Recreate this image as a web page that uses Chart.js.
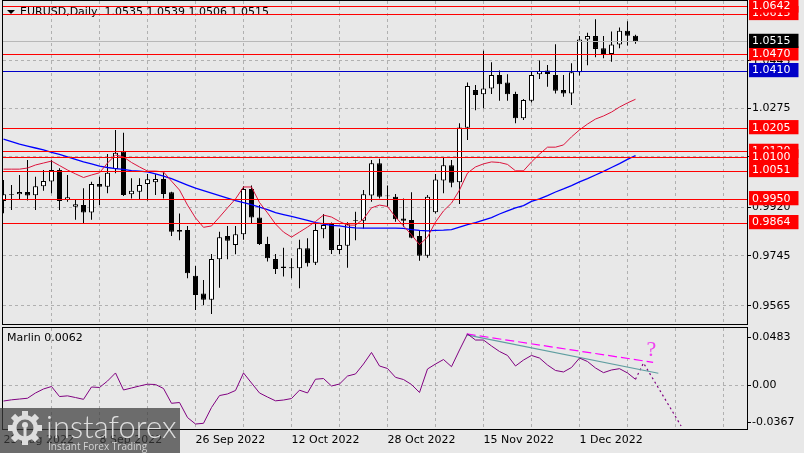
<!DOCTYPE html>
<html>
<head>
<meta charset="utf-8">
<title>EURUSD Daily</title>
<script src="https://cdn.jsdelivr.net/npm/chart.js@4.4.0/dist/chart.umd.min.js"></script>
<style>
  html, body { margin: 0; padding: 0; background: #e8e8e8; }
  #wrap { position: relative; width: 804px; height: 453px; overflow: hidden; background: #e8e8e8; }
  #wrap canvas { position: absolute; left: 0; }
  #main { top: 0; }
  #osc { top: 325px; }
</style>
</head>
<body>
<div id="wrap">
  <canvas id="main" width="804" height="325"></canvas>
  <canvas id="osc" width="804" height="128"></canvas>
</div>
<script>
"use strict";

const FONT = "'DejaVu Sans', Verdana, sans-serif";
const GRID = "#b0b0b0";

// daily bars, 23 Aug 2022 .. 12 Dec 2022
const opens  = [0.9942, 0.9964, 0.9966, 0.9974, 0.9962, 0.9995, 1.0012, 1.0053, 0.9945, 0.9921,
                0.9927, 0.9900, 1.0003, 0.9993, 1.0057, 1.0119, 0.9966, 0.9975, 1.0003, 1.0009,
                1.0021, 0.9973, 0.9837, 0.9837, 0.9673, 0.9609, 0.9587, 0.9732, 0.9816, 0.9784,
                0.9822, 0.9985, 0.9882, 0.9787, 0.9733, 0.9706, 0.9704, 0.9700, 0.9772, 0.9720,
                0.9840, 0.9859, 0.9766, 0.9781, 0.9871, 0.9871, 0.9961, 1.0077, 0.9961, 0.9957,
                0.9879, 0.9873, 0.9816, 0.9745, 0.9901, 1.0015, 1.0070, 1.0009, 1.0205, 1.0340,
                1.0325, 1.0346, 1.0394, 1.0367, 1.0326, 1.0239, 1.0302, 1.0397, 1.0410, 1.0394,
                1.0340, 1.0328, 1.0404, 1.0522, 1.0534, 1.0490, 1.0470, 1.0504, 1.0553, 1.0535];
const highs  = [1.0017, 0.9999, 1.0035, 1.0089, 1.0029, 1.0053, 1.0089, 1.0059, 1.0035, 0.9945,
                0.9987, 1.0011, 1.0029, 1.0110, 1.0197, 1.0187, 1.0023, 1.0023, 1.0039, 1.0038,
                1.0045, 0.9975, 0.9897, 0.9852, 0.9708, 0.9658, 0.9751, 0.9831, 0.9852, 0.9852,
                0.9995, 0.9997, 0.9927, 0.9813, 0.9751, 0.9774, 0.9736, 0.9802, 0.9808, 0.9861,
                0.9895, 0.9864, 0.9843, 0.9865, 0.9903, 0.9981, 1.0089, 1.0093, 0.9997, 0.9967,
                0.9951, 0.9973, 0.9837, 0.9963, 1.0039, 1.0097, 1.0089, 1.0221, 1.0367, 1.0358,
                1.0481, 1.0440, 1.0410, 1.0397, 1.0334, 1.0308, 1.0406, 1.0446, 1.0430, 1.0505,
                1.0394, 1.0436, 1.0534, 1.0546, 1.0594, 1.0534, 1.0550, 1.0565, 1.0587, 1.0539];
const lows   = [0.9898, 0.9909, 0.9945, 0.9943, 0.9909, 0.9978, 0.9969, 0.9909, 0.9939, 0.9874,
                0.9862, 0.9874, 0.9927, 0.9969, 1.0041, 0.9960, 0.9951, 0.9945, 0.9943, 0.9963,
                0.9951, 0.9816, 0.9801, 0.9664, 0.9550, 0.9568, 0.9536, 0.9630, 0.9732, 0.9750,
                0.9802, 0.9862, 0.9784, 0.9724, 0.9679, 0.9670, 0.9664, 0.9628, 0.9706, 0.9712,
                0.9808, 0.9751, 0.9751, 0.9702, 0.9801, 0.9843, 0.9939, 0.9951, 0.9921, 0.9867,
                0.9849, 0.9808, 0.9727, 0.9738, 0.9897, 0.9969, 0.9991, 0.9931, 1.0161, 1.0268,
                1.0275, 1.0326, 1.0302, 1.0302, 1.0221, 1.0233, 1.0295, 1.0380, 1.0352, 1.0328,
                1.0316, 1.0286, 1.0392, 1.0429, 1.0458, 1.0454, 1.0442, 1.0490, 1.0500, 1.0506];
const closes = [0.9966, 0.9967, 0.9974, 0.9961, 0.9995, 1.0013, 1.0053, 0.9942, 0.9955, 0.9930,
                0.9900, 1.0003, 0.9993, 1.0043, 1.0115, 0.9963, 0.9978, 0.9999, 1.0020, 1.0021,
                0.9967, 0.9831, 0.9831, 0.9682, 0.9604, 0.9587, 0.9733, 0.9811, 0.9799, 0.9822,
                0.9985, 0.9882, 0.9787, 0.9736, 0.9697, 0.9701, 0.9700, 0.9772, 0.9718, 0.9837,
                0.9855, 0.9766, 0.9784, 0.9858, 0.9873, 0.9966, 1.0077, 0.9957, 0.9959, 0.9876,
                0.9871, 0.9810, 0.9745, 0.9957, 1.0019, 1.0070, 1.0007, 1.0206, 1.0355, 1.0322,
                1.0346, 1.0394, 1.0361, 1.0325, 1.0239, 1.0304, 1.0394, 1.0409, 1.0398, 1.0338,
                1.0328, 1.0404, 1.0522, 1.0534, 1.0488, 1.0466, 1.0504, 1.0553, 1.0535, 1.0515];

// moving averages on the price window
const maFast = [1.0056, 1.0056, 1.0056, 1.0060, 1.0071, 1.0078, 1.0085, 1.0069, 1.0053, 1.0039,
                1.0026, 1.0035, 1.0043, 1.0078, 1.0107, 1.0100, 1.0080, 1.0064, 1.0049, 1.0049,
                1.0046, 1.0013, 0.9981, 0.9927, 0.9881, 0.9847, 0.9852, 0.9884, 0.9917, 0.9949,
                0.9992, 0.9992, 0.9936, 0.9899, 0.9859, 0.9830, 0.9812, 0.9830, 0.9848, 0.9868,
                0.9891, 0.9884, 0.9868, 0.9855, 0.9855, 0.9877, 0.9917, 0.9927, 0.9922, 0.9884,
                0.9852, 0.9820, 0.9785, 0.9812, 0.9866, 0.9906, 0.9934, 0.9981, 1.0042, 1.0064,
                1.0075, 1.0082, 1.0080, 1.0073, 1.0050, 1.0050, 1.0082, 1.0110, 1.0135, 1.0135,
                1.0143, 1.0172, 1.0197, 1.0218, 1.0236, 1.0247, 1.0261, 1.0279, 1.0294, 1.0307];
const maSlow = [1.0164, 1.0155, 1.0146, 1.0139, 1.0132, 1.0125, 1.0116, 1.0109, 1.0100, 1.0091,
                1.0082, 1.0075, 1.0067, 1.0062, 1.0058, 1.0055, 1.0051, 1.0049, 1.0046, 1.0039,
                1.0031, 1.0022, 1.0010, 0.9999, 0.9988, 0.9979, 0.9970, 0.9961, 0.9952, 0.9943,
                0.9936, 0.9929, 0.9920, 0.9911, 0.9900, 0.9893, 0.9886, 0.9879, 0.9872, 0.9864,
                0.9859, 0.9854, 0.9852, 0.9848, 0.9845, 0.9844, 0.9844, 0.9844, 0.9844, 0.9844,
                0.9843, 0.9839, 0.9836, 0.9834, 0.9836, 0.9837, 0.9839, 0.9848, 0.9857, 0.9864,
                0.9873, 0.9882, 0.9895, 0.9906, 0.9917, 0.9925, 0.9940, 0.9949, 0.9961, 0.9974,
                0.9985, 0.9997, 1.0010, 1.0022, 1.0035, 1.0048, 1.0062, 1.0076, 1.0091, 1.0105];

// Marlin oscillator
const marlin = [-0.0156, -0.0144, -0.0136, -0.0128, -0.0075, -0.0035, -0.0010, -0.0111, -0.0104, -0.0121,
                -0.0139, -0.0015, -0.0020,  0.0045,  0.0126, -0.0045, -0.0025, -0.0005,  0.0013,  0.0010,
                -0.0030, -0.0179, -0.0171, -0.0322, -0.0387, -0.0380, -0.0221, -0.0101, -0.0085, -0.0050,
                 0.0126,  0.0025, -0.0075, -0.0116, -0.0154, -0.0146, -0.0131, -0.0047, -0.0075,  0.0063,
                 0.0070, -0.0005,  0.0015,  0.0095,  0.0116,  0.0216,  0.0332,  0.0196,  0.0171,  0.0082,
                 0.0060,  0.0010, -0.0070,  0.0166,  0.0216,  0.0261,  0.0189,  0.0357,  0.0518,  0.0457,
                 0.0457,  0.0397,  0.0342,  0.0302,  0.0196,  0.0256,  0.0302,  0.0276,  0.0206,  0.0151,
                 0.0136,  0.0181,  0.0276,  0.0241,  0.0176,  0.0129,  0.0156,  0.0169,  0.0126,  0.0062];

const dateTicks   = ["23 Aug 2022", "8 Sep 2022", "26 Sep 2022", "12 Oct 2022", "28 Oct 2022", "15 Nov 2022", "1 Dec 2022"];
const priceGrid   = [0.9565, 0.9745, 0.9920, 1.0100, 1.0275, 1.0445];
const levelPrices = [1.0615, 1.0642, 1.0120, 1.0100, 1.0051, 1.0205, 1.0470, 1.0410, 0.9950, 0.9864, 1.0515];
const levelLines  = ["#ff0000", "#ff0000", "#ff0000", "#ff0000", "#ff0000", "#ff0000", "#ff0000", "#0000c8", "#ff0000", "#ff0000", "#b8b8b8"];
const levelBoxes  = ["#ff0000", "#ff0000", "#ff0000", "#ff0000", "#ff0000", "#ff0000", "#ff0000", "#0000c8", "#ff0000", "#ff0000", "#000000"];
const marlinTicks = [0.0483, 0, -0.0367];

// hand-drawn marks in the Marlin window: [bar, value] pairs
const peakTrend   = [[57.9, 0.0508], [81.85, 0.0123]];
const peakDashed  = [[57.9, 0.0518], [81.2, 0.0233]];
const forecast    = [[79, 0.0062], [80, 0.0226], [84.7, -0.0407]];

const title = "EURUSD,Daily  1.0535 1.0539 1.0506 1.0515";

const pts = arr => arr.map((v, i) => ({ x: i, y: v }));
const pairs = arr => arr.map(p => ({ x: p[0], y: p[1] }));

function noPad(s) { s.paddingLeft = 0; s.paddingRight = 0; s.paddingTop = 0; s.paddingBottom = 0; }

function barAxis(withLabels) {
  return {
    type: "linear", min: -0.0625, max: 92.9375, offset: false,
    afterBuildTicks: s => { const t = []; for (let v = 0; v <= 90; v += 6) t.push({ value: v }); s.ticks = t; },
    afterFit: s => { noPad(s); s.height = withLabels ? 24 : 0; },
    border: { display: false, dash: [3, 3] },
    grid: { color: c => (c.tick && c.tick.value > 0 ? GRID : "transparent"), drawTicks: false, offset: false },
    ticks: {
      display: withLabels, autoSkip: false, maxRotation: 0, align: "start", padding: 5,
      color: "#000", font: { family: FONT, size: 11 },
      callback: v => (v % 12 === 0 ? dateTicks[v / 12] || "" : ""),
    },
  };
}

const framePlugin = {
  id: "frame",
  afterDraw(chart) {
    const { ctx, chartArea: a } = chart;
    ctx.save();
    ctx.strokeStyle = "#000";
    ctx.lineWidth = 1;
    ctx.strokeRect(a.left - 0.5, a.top - 0.5, a.right - a.left + 1, a.bottom - a.top + 1);
    ctx.restore();
  },
};

const headerPlugin = {
  id: "header",
  beforeDatasetsDraw(chart) {
    const ctx = chart.ctx;
    ctx.save();
    ctx.fillStyle = "#000";
    ctx.beginPath(); ctx.moveTo(7, 10); ctx.lineTo(15, 10); ctx.lineTo(11, 14); ctx.closePath(); ctx.fill();
    ctx.font = "11px " + FONT;
    ctx.textBaseline = "middle";
    ctx.fillText(title, 20, 12.5);
    ctx.restore();
  },
};

const levelPlugin = {
  id: "levels",
  afterDatasetsDraw(chart) {
    const { ctx, chartArea: a, scales } = chart;
    ctx.save();
    ctx.lineWidth = 1;
    levelPrices.forEach((p, i) => {
      const y = Math.round(scales.y.getPixelForValue(p)) + 0.5;
      ctx.strokeStyle = levelLines[i];
      ctx.beginPath(); ctx.moveTo(a.left, y); ctx.lineTo(a.right, y); ctx.stroke();
    });
    ctx.restore();
  },
};

const levelIdx = c => c.index - priceGrid.length;

new Chart(document.getElementById("main"), {
  type: "bar",
  data: {
    datasets: [
      { type: "line", label: "MA fast", data: pts(maFast), borderColor: "#dc143c", borderWidth: 1, pointRadius: 0, tension: 0, order: 0 },
      { type: "line", label: "MA slow", data: pts(maSlow), borderColor: "#0000ff", borderWidth: 1.3, pointRadius: 0, tension: 0, order: 1 },
      {
        label: "Body", data: opens.map((o, i) => ({ x: i, y: [o, closes[i]] })), order: 2,
        grouped: false, maxBarThickness: 5, inflateAmount: 0, borderSkipped: false,
        borderWidth: 1, borderColor: "#000",
        backgroundColor: opens.map((o, i) => (closes[i] >= o ? "#ffffff" : "#000000")),
      },
      {
        label: "Wick", data: lows.map((l, i) => ({ x: i, y: [l, highs[i]] })), order: 3,
        grouped: false, maxBarThickness: 1, inflateAmount: 0, borderWidth: 0, backgroundColor: "#000",
      },
    ],
  },
  options: {
    responsive: false, animation: false, devicePixelRatio: 1, events: [],
    layout: { padding: { left: 3, top: 1, right: 0, bottom: 1 } },
    plugins: { legend: { display: false }, tooltip: { enabled: false } },
    scales: {
      x: barAxis(false),
      y: {
        position: "right", min: 0.94998, max: 1.0660,
        afterBuildTicks: s => { s.ticks = priceGrid.concat(levelPrices).map(v => ({ value: v })); },
        afterFit: s => { noPad(s); s.width = 57; },
        border: { display: false, dash: [3, 3] },
        grid: {
          color: c => (levelIdx(c) < 0 ? GRID : "transparent"),
          tickColor: c => (levelIdx(c) < 0 ? "#000" : "transparent"),
          tickLength: 4,
        },
        ticks: {
          autoSkip: false, padding: 1, font: { family: FONT, size: 11 },
          color: c => (levelIdx(c) >= 0 ? "#ffffff" : "#000000"),
          showLabelBackdrop: c => levelIdx(c) >= 0,
          backdropColor: c => levelBoxes[levelIdx(c)] || "transparent",
          backdropPadding: { left: 3, right: 8, top: 1, bottom: 0 },
          callback: v => v.toFixed(4),
        },
      },
    },
  },
  plugins: [headerPlugin, levelPlugin, framePlugin],
});

const oscTextPlugin = {
  id: "oscText",
  afterDatasetsDraw(chart) {
    const { ctx, scales } = chart;
    ctx.save();
    ctx.font = "11px " + FONT;
    ctx.fillStyle = "#000";
    ctx.textBaseline = "middle";
    ctx.fillText("Marlin 0.0062", 7, 13);
    ctx.font = "22px 'Liberation Serif', 'DejaVu Serif', serif";
    ctx.fillStyle = "#f040f0";
    ctx.textAlign = "center";
    ctx.textBaseline = "alphabetic";
    ctx.fillText("?", scales.x.getPixelForValue(81), scales.y.getPixelForValue(0.0298));
    ctx.restore();
  },
};

const watermarkPlugin = {
  id: "watermark",
  afterDraw(chart) {
    const ctx = chart.ctx;
    ctx.save();
    ctx.fillStyle = "rgba(60,60,60,0.72)";
    ctx.fillRect(0, 83, 180, 45);
    ctx.fillStyle = "#dedede";
    ctx.translate(25, 103);
    for (let k = 0; k < 8; k++) { ctx.rotate(Math.PI / 4); ctx.fillRect(-3, -17, 6, 6); }
    ctx.beginPath();
    ctx.arc(0, 0, 13, 0, 2 * Math.PI);
    ctx.arc(0, 0, 8.5, 0, 2 * Math.PI, true);
    ctx.fill();
    ctx.beginPath(); ctx.arc(0, -3, 3, 0, 2 * Math.PI); ctx.fill();
    ctx.fillRect(-1.5, 0, 3, 10);
    ctx.setTransform(1, 0, 0, 1, 0, 0);
    ctx.font = "300 31px Lato, 'Open Sans', sans-serif";
    ctx.textBaseline = "alphabetic";
    ctx.fillText("instaforex", 46, 113);
    ctx.font = "10px 'Open Sans', sans-serif";
    ctx.fillStyle = "#d4d4d4";
    ctx.fillText("Instant Forex Trading", 48, 125);
    ctx.restore();
  },
};

new Chart(document.getElementById("osc"), {
  type: "line",
  data: {
    datasets: [
      { label: "Marlin", data: pts(marlin), borderColor: "#800080", borderWidth: 1, pointRadius: 0, tension: 0 },
      { label: "Peak line", data: pairs(peakTrend), borderColor: "#5f9ea0", borderWidth: 1.2, pointRadius: 0 },
      { label: "Peak dashed", data: pairs(peakDashed), borderColor: "#ff00ff", borderWidth: 1.2, borderDash: [9, 4], pointRadius: 0 },
      { label: "Forecast", data: pairs(forecast), borderColor: "#800080", borderWidth: 1.2, borderDash: [2, 3], pointRadius: 0 },
    ],
  },
  options: {
    responsive: false, animation: false, devicePixelRatio: 1, events: [],
    layout: { padding: { left: 3, top: 3, right: 0, bottom: 0 } },
    plugins: { legend: { display: false }, tooltip: { enabled: false } },
    scales: {
      x: barAxis(true),
      y: {
        position: "right", min: -0.04372, max: 0.05779,
        afterBuildTicks: s => { s.ticks = marlinTicks.map(v => ({ value: v })); },
        afterFit: s => { noPad(s); s.width = 57; },
        border: { display: false, dash: [3, 3] },
        grid: { color: c => (c.tick && c.tick.value === 0 ? GRID : "transparent"), tickColor: "#000", tickLength: 4 },
        ticks: {
          autoSkip: false, padding: 1, color: "#000", font: { family: FONT, size: 11 },
          callback: v => (v === 0 ? "0.00" : v.toFixed(4)),
        },
      },
    },
  },
  plugins: [oscTextPlugin, framePlugin, watermarkPlugin],
});
</script>
</body>
</html>
